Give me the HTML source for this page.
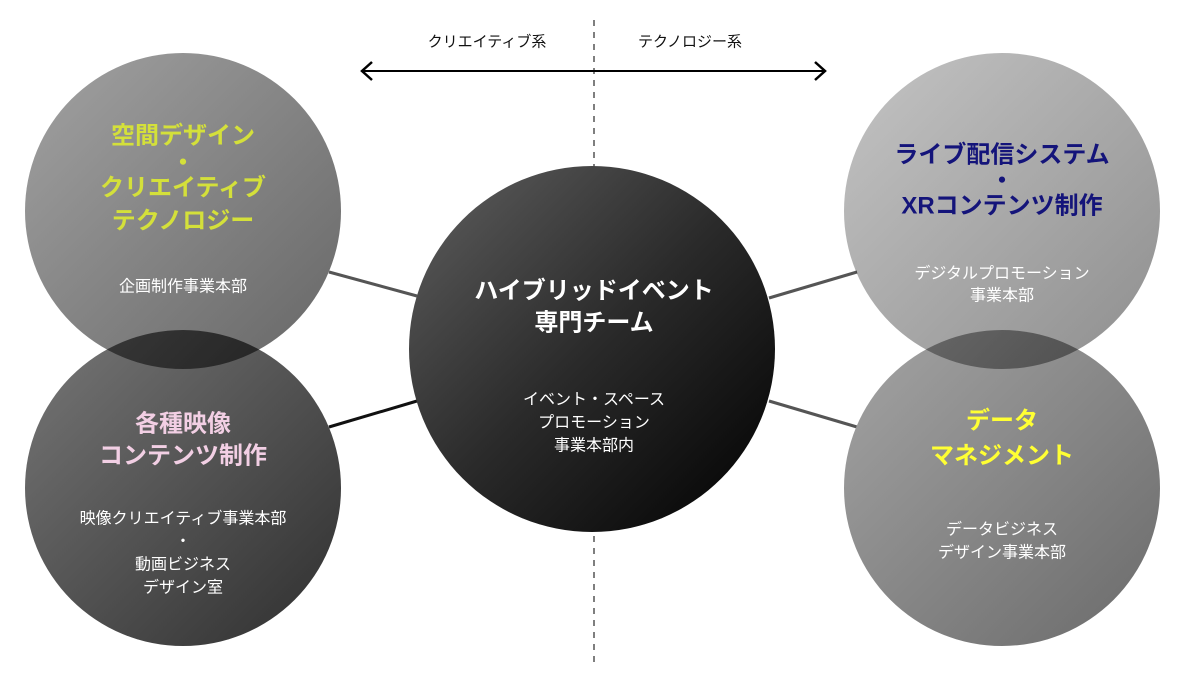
<!DOCTYPE html>
<html><head><meta charset="utf-8"><style>
html,body{margin:0;padding:0;background:#fff;}
svg{display:block;}
text{font-family:"Liberation Sans","Noto Sans CJK JP",sans-serif;text-anchor:middle;dominant-baseline:central;}
.t{font-size:24px;font-weight:bold;}
.s{font-size:16px;fill:#fff;}
.m{mix-blend-mode:multiply;}
</style></head><body>
<svg width="1200" height="699" viewBox="0 0 1200 699" xmlns="http://www.w3.org/2000/svg">
<defs>
<linearGradient id="gTL" x1="0" y1="0" x2="1" y2="1"><stop offset="0" stop-color="#a2a2a2"/><stop offset="1" stop-color="#666"/></linearGradient>
<linearGradient id="gBL" x1="0" y1="0" x2="1" y2="1"><stop offset="0" stop-color="#777"/><stop offset="1" stop-color="#2e2e2e"/></linearGradient>
<linearGradient id="gC" x1="0" y1="0" x2="1" y2="1"><stop offset="0" stop-color="#606060"/><stop offset="0.5" stop-color="#2a2a2a"/><stop offset="1" stop-color="#000"/></linearGradient>
<linearGradient id="gTR" x1="0" y1="0" x2="1" y2="1"><stop offset="0" stop-color="#c4c4c4"/><stop offset="1" stop-color="#8e8e8e"/></linearGradient>
<linearGradient id="gBR" x1="0" y1="0" x2="1" y2="1"><stop offset="0" stop-color="#a4a4a4"/><stop offset="1" stop-color="#6a6a6a"/></linearGradient>
</defs>
<line x1="594" y1="20" x2="594" y2="666" stroke="#555" stroke-width="1.5" stroke-dasharray="6,6"/>
<text x="487" y="42" font-size="15" fill="#111">クリエイティブ系</text>
<text x="690" y="42" font-size="15" fill="#111">テクノロジー系</text>
<line x1="362" y1="71" x2="825" y2="71" stroke="#000" stroke-width="2"/>
<polyline points="372,62 362,71 372,80" fill="none" stroke="#000" stroke-width="2.5"/>
<polyline points="815,62 825,71 815,80" fill="none" stroke="#000" stroke-width="2.5"/>
<line x1="329" y1="272" x2="417" y2="296" stroke="#555" stroke-width="3"/>
<line x1="329" y1="427" x2="417" y2="401" stroke="#111" stroke-width="3"/>
<line x1="769" y1="298" x2="857" y2="272" stroke="#555" stroke-width="3"/>
<line x1="769" y1="401" x2="857" y2="427" stroke="#555" stroke-width="3"/>
<circle cx="183" cy="488" r="158" fill="url(#gBL)"/>
<circle class="m" cx="183" cy="211" r="158" fill="url(#gTL)"/>
<circle cx="1002" cy="488" r="158" fill="url(#gBR)"/>
<circle class="m" cx="1002" cy="211" r="158" fill="url(#gTR)"/>
<circle cx="592" cy="349" r="183" fill="url(#gC)"/>
<text class="t" x="183" y="136" fill="#d4e03a">空間デザイン</text>
<text class="t" x="183" y="163" fill="#d4e03a">・</text>
<text class="t" x="183" y="188" fill="#d4e03a">クリエイティブ</text>
<text class="t" x="183" y="221" fill="#d4e03a">テクノロジー</text>
<text class="s" x="183" y="287">企画制作事業本部</text>
<text class="t" x="183" y="424" fill="#f2cfe4">各種映像</text>
<text class="t" x="183" y="456" fill="#f2cfe4">コンテンツ制作</text>
<text class="s" x="183" y="519">映像クリエイティブ事業本部</text>
<text class="s" x="183" y="542">・</text>
<text class="s" x="183" y="565">動画ビジネス</text>
<text class="s" x="183" y="588">デザイン室</text>
<text class="t" x="594" y="291" fill="#fff">ハイブリッドイベント</text>
<text class="t" x="594" y="323" fill="#fff">専門チーム</text>
<text class="s" x="594" y="400">イベント・スペース</text>
<text class="s" x="594" y="423">プロモーション</text>
<text class="s" x="594" y="446">事業本部内</text>
<text class="t" x="1002" y="155" fill="#14147a">ライブ配信システム</text>
<text class="t" x="1002" y="181" fill="#14147a">・</text>
<text class="t" x="1002" y="206" fill="#14147a">XRコンテンツ制作</text>
<text class="s" x="1002" y="274" fill="#eee">デジタルプロモーション</text>
<text class="s" x="1002" y="296" fill="#eee">事業本部</text>
<text class="t" x="1002" y="421" fill="#ffff33">データ</text>
<text class="t" x="1002" y="456" fill="#ffff33">マネジメント</text>
<text class="s" x="1002" y="530">データビジネス</text>
<text class="s" x="1002" y="553">デザイン事業本部</text>
</svg>
</body></html>
